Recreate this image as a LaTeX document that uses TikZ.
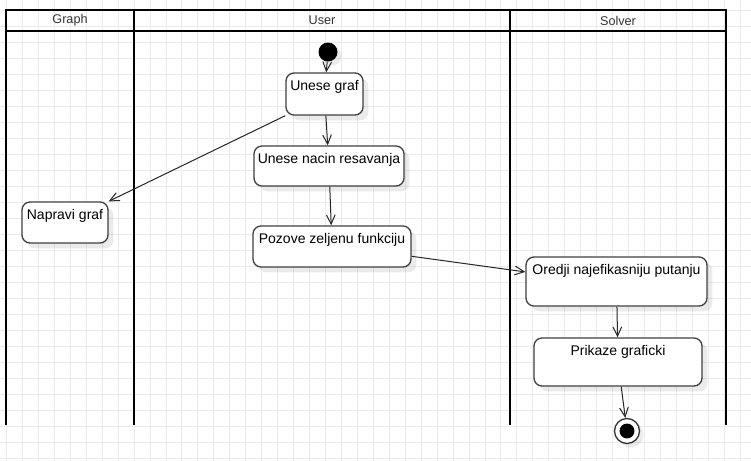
\documentclass[tikz,border=0pt]{standalone}
\usepackage{fontspec}
\setmainfont{Liberation Sans}
\usetikzlibrary{arrows.meta,shadows}

\tikzset{
    gridline/.style={draw=black!8, line width=0.75pt},
    lane/.style={line width=1.5pt},
    act/.style={draw=black!75, line width=1pt, rounded corners=6pt, fill=white, inner sep=0pt,
        drop shadow={shadow xshift=4pt, shadow yshift=-4pt, fill=black, opacity=0.08}},
    boxsize/.style 2 args={minimum width=#1*0.75pt, minimum height=#2*0.75pt},
    txt/.style={label={[anchor=base, yshift=-13.5pt, font=\fontsize{10.5}{12}\selectfont]north:#1}},
    flow/.style={draw=black!85, line width=0.75pt, -{Straight Barb[length=7pt, width=6.5pt]}},
    lanetitle/.style={font=\fontsize{9.5}{11}\selectfont, text=black!80}
}

\begin{document}
\begin{tikzpicture}[x=0.75pt, y=-0.75pt]
    \fill[white] (0,0) rectangle (751,461);
    \useasboundingbox (0,0) rectangle (751,461);

    % grid
    \foreach \i in {0,...,46}
        \draw[gridline] (6.5+\i*15.95,0) -- (6.5+\i*15.95,461);
    \foreach \j in {0,...,28}
        \draw[gridline] (0,10+\j*16) -- (751,10+\j*16);

    % lanes
    \draw[lane] (6,425) -- (6,10) -- (726,10) -- (726,425);
    \draw[lane] (6,31) -- (726,31);
    \draw[lane] (134,10) -- (134,425);
    \draw[lane] (510,10) -- (510,425);

    \node[lanetitle] (graph) at (70,20.5) {Graph};
    \node[lanetitle] (user) at (322,20.5) {User};
    \node[lanetitle] (solver) at (618,20.5) {Solver};

    % start and end
    \node[circle, fill=black, minimum size=19*0.75pt, inner sep=0pt,
        drop shadow={shadow xshift=3pt, shadow yshift=-3pt, fill=black, opacity=0.08}] (start) at (328,52) {};
    \node[circle, draw=black!80, line width=1pt, fill=white, minimum size=25*0.75pt, inner sep=0pt,
        drop shadow={shadow xshift=3pt, shadow yshift=-3pt, fill=black, opacity=0.08},
        path picture={\fill[black] (path picture bounding box.center) circle (5.6pt);}] (stop) at (627,431) {};

    % activities
    \node[act, boxsize={77}{42}, txt={Unese graf}] (ug) at (324.5,94) {};
    \node[act, boxsize={150}{40}, txt={Unese nacin resavanja}] (un) at (329,166) {};
    \node[act, boxsize={86}{41}, txt={Napravi graf}] (ng) at (65,222.5) {};
    \node[act, boxsize={158}{41}, txt={Pozove zeljenu funkciju}] (pz) at (332,246.5) {};
    \node[act, boxsize={181}{49}, txt={Oredji najefikasniju putanju}] (od) at (616.5,281.5) {};
    \node[act, boxsize={168}{48}, txt={Prikaze graficki}] (pk) at (618,362) {};

    % flows
    \draw[flow] (start) -- (ug);
    \draw[flow] (ug) -- (un);
    \draw[flow] (ug.south west) -- (ng.north east);
    \draw[flow] (un) -- (pz);
    \draw[flow] (pz.-7) -- (od.174);
    \draw[flow] (od) -- (pk);
    \draw[flow] (pk) -- (stop);
\end{tikzpicture}
\end{document}
